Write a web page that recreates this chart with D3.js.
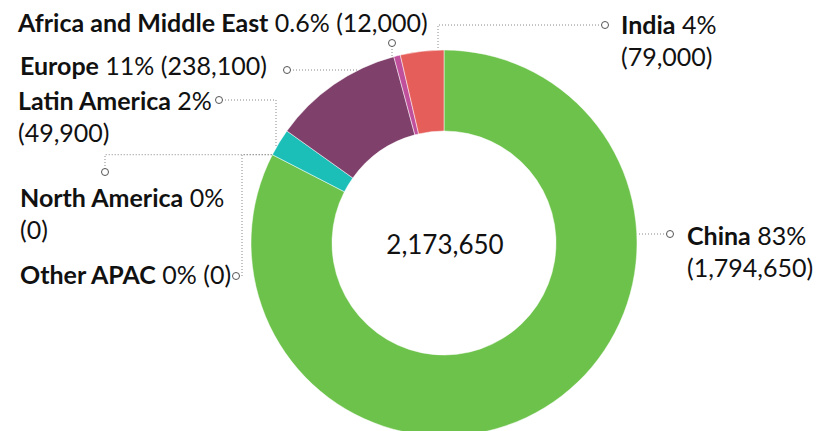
<!DOCTYPE html>
<html>
<head>
<meta charset="utf-8">
<script src="https://cdn.jsdelivr.net/npm/d3@7"></script>
<style>
  body { margin: 0; background: #fff; }
  svg { display: block; font-family: Lato, "Open Sans", sans-serif; }
</style>
</head>
<body>
<svg id="svg"></svg>
<script>
var larghezza = 821;
var altezza = 431;

// data, clockwise from 12 o'clock
var regions = ["China", "Other APAC", "North America", "Latin America", "Europe", "Africa and Middle East", "India"];
var values = [1794650, 0, 0, 49900, 238100, 12000, 79000];
var pctLabels = ["83%", "0%", "0%", "2%", "11%", "0.6%", "4%"];
var colors = ["#6cc24a", "#8a8a8a", "#4a6fb5", "#1bbfb8", "#7f416b", "#c04f9c", "#e55e59"];
var totalLabel = "2,173,650";

var cx = 444, cy = 243;
var outerR = 193, innerR = 112;
var fontSize = 25;
var lineH = 31.5;

// label layout: text position, split, dot position and connector route
var layout = {
    "China":                  { x: 687, y: 245, split: true,  dot: [670, 234], route: "h" },
    "India":                  { x: 621, y: 34,  split: true,  dot: [605, 25],  route: "hv", elbow: 438 },
    "Africa and Middle East": { x: 18,  y: 32,  split: false, dot: [392, 43],  route: "v" },
    "Europe":                 { x: 20,  y: 75,  split: false, dot: [287, 70],  route: "h" },
    "Latin America":          { x: 18,  y: 110, split: true,  dot: [219, 100], route: "hv", elbow: 276 },
    "North America":          { x: 20,  y: 207, split: true,  dot: [105, 172], route: "vh" },
    "Other APAC":             { x: 20,  y: 284, split: false, dot: [236, 276], route: "hvh", elbow: 242 }
};

function draw() {
    var svg = d3.select("#svg");
    svg.attr("width", larghezza).attr("height", altezza);

    var pie = d3.pie().sort(null).value(function (d) { return d; });
    var arcs = pie(values);
    var arc = d3.arc().innerRadius(innerR).outerRadius(outerR);

    drawSlices(svg, arcs, arc);
    drawConnectors(svg, arcs);
    drawLabels(svg);

    svg.append("text")
        .attr("x", cx + 1)
        .attr("y", cy + 11)
        .attr("text-anchor", "middle")
        .attr("font-size", 26)
        .attr("fill", "#111")
        .text(totalLabel);
}

function drawSlices(svg, arcs, arc) {
    var g = svg.append("g").attr("transform", "translate(" + cx + "," + cy + ")");
    g.selectAll("path")
        .data(arcs.filter(function (d) { return d.value > 0; }))
        .enter().append("path")
        .attr("d", arc)
        .style("fill", function (d) { return colors[d.index]; })
        .style("stroke", "#fff")
        .style("stroke-width", "0.5px");
}

// point on the outer edge at a given y (left or right side) or given x (top)
function edgeAtY(y, side) {
    var dy = y - cy;
    return cx + side * Math.sqrt(outerR * outerR - dy * dy);
}
function edgeAtX(x) {
    var dx = x - cx;
    return cy - Math.sqrt(outerR * outerR - dx * dx);
}

function drawConnectors(svg, arcs) {
    var g = svg.append("g");
    arcs.forEach(function (a) {
        var name = regions[a.index];
        var L = layout[name];
        var dx0 = L.dot[0], dy0 = L.dot[1];
        var pts;
        // anchor for empty slices: boundary point on outer edge
        var bx = cx + outerR * Math.sin(a.startAngle);
        var by = cy - outerR * Math.cos(a.startAngle);
        if (L.route === "h") {
            var side = dx0 > cx ? 1 : -1;
            pts = [[dx0, dy0], [edgeAtY(dy0, side), dy0]];
        } else if (L.route === "v") {
            pts = [[dx0, dy0], [dx0, edgeAtX(dx0)]];
        } else if (L.route === "hv") {
            pts = [[dx0, dy0], [L.elbow, dy0], [L.elbow, edgeAtX(L.elbow)]];
        } else if (L.route === "vh") {
            pts = [[dx0, dy0], [dx0, by], [bx, by]];
        } else {
            pts = [[dx0, dy0], [L.elbow, dy0], [L.elbow, by], [bx, by]];
        }
        g.append("path")
            .attr("d", d3.line()(pts))
            .style("fill", "none")
            .style("stroke", "#888")
            .style("stroke-width", "1px")
            .style("stroke-dasharray", "1,2");
        g.append("circle")
            .attr("cx", dx0)
            .attr("cy", dy0)
            .attr("r", 3.5)
            .style("fill", "#fff")
            .style("stroke", "#555")
            .style("stroke-width", "1px");
    });
}

function drawLabels(svg) {
    var g = svg.append("g");
    regions.forEach(function (name, i) {
        var L = layout[name];
        var num = "(" + d3.format(",")(values[i]) + ")";
        var t = g.append("text")
            .attr("x", L.x)
            .attr("y", L.y)
            .attr("font-size", fontSize)
            .attr("fill", "#111");
        t.append("tspan").attr("font-weight", "bold").text(name);
        if (L.split) {
            t.append("tspan").text(" " + pctLabels[i]);
            t.append("tspan").attr("x", L.x).attr("dy", lineH).text(num);
        } else {
            t.append("tspan").text(" " + pctLabels[i] + " " + num);
        }
    });
}

draw();
</script>
</body>
</html>
